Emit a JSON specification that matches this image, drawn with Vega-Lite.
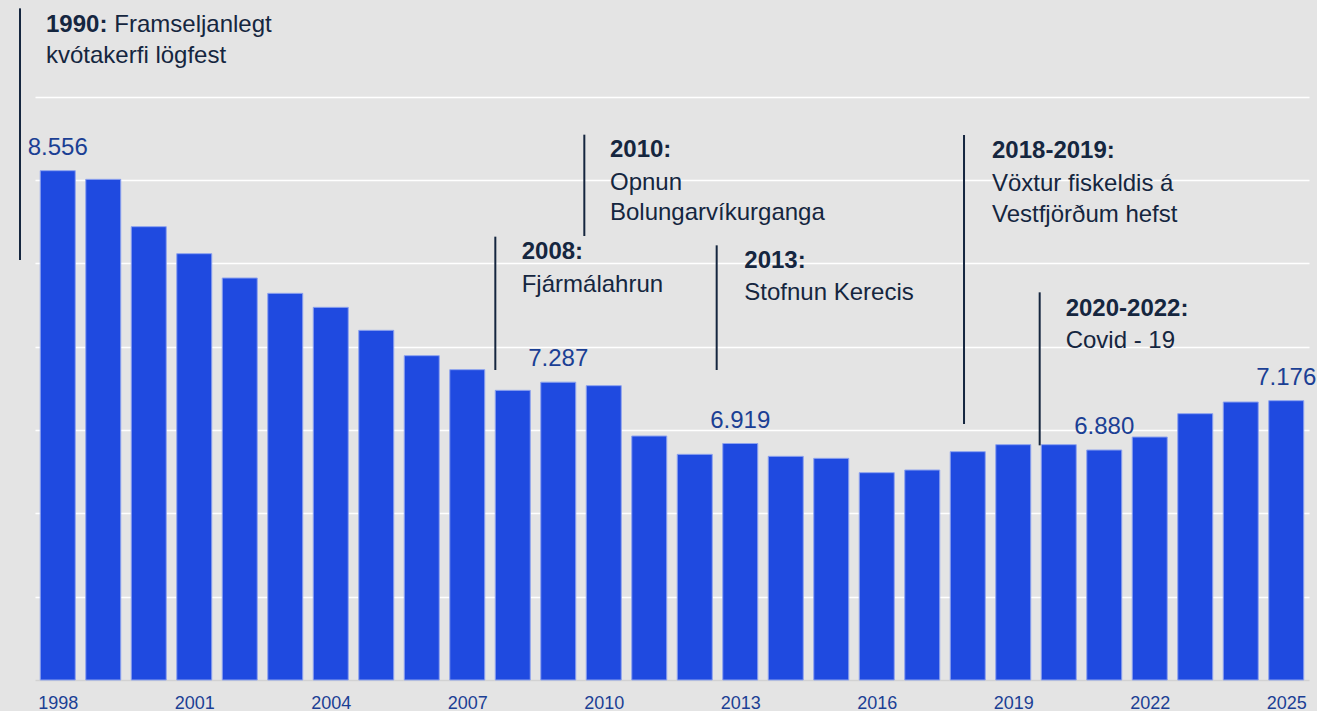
{
  "$schema": "https://vega.github.io/schema/vega-lite/v6.json",
  "width": 1274,
  "height": 680,
  "autosize": {"type": "none"},
  "padding": {"left": 35, "top": 0, "right": 8, "bottom": 31},
  "background": "#e4e4e4",
  "config": {
    "view": {"stroke": null},
    "font": "Liberation Sans",
    "locale": {"number": {"decimal": ",", "thousands": ".", "grouping": [3], "currency": ["", " kr."]}}
  },
  "datasets": {
    "bars": [
      {"year": 1998, "value": 8556},
      {"year": 1999, "value": 8504},
      {"year": 2000, "value": 8220},
      {"year": 2001, "value": 8058},
      {"year": 2002, "value": 7912},
      {"year": 2003, "value": 7820},
      {"year": 2004, "value": 7736},
      {"year": 2005, "value": 7598},
      {"year": 2006, "value": 7446},
      {"year": 2007, "value": 7362},
      {"year": 2008, "value": 7238},
      {"year": 2009, "value": 7287},
      {"year": 2010, "value": 7266},
      {"year": 2011, "value": 6964},
      {"year": 2012, "value": 6854},
      {"year": 2013, "value": 6919},
      {"year": 2014, "value": 6842},
      {"year": 2015, "value": 6830},
      {"year": 2016, "value": 6744},
      {"year": 2017, "value": 6760},
      {"year": 2018, "value": 6870},
      {"year": 2019, "value": 6912},
      {"year": 2020, "value": 6912},
      {"year": 2021, "value": 6880},
      {"year": 2022, "value": 6958},
      {"year": 2023, "value": 7098},
      {"year": 2024, "value": 7168},
      {"year": 2025, "value": 7176}
    ],
    "rules": [
      {"event": "1990", "year": 1997.17, "value": 9530, "value2": 8020},
      {"event": "2008", "year": 2007.617, "value": 8160, "value2": 7360},
      {"event": "2010", "year": 2009.573, "value": 8772, "value2": 8164},
      {"event": "2013", "year": 2012.482, "value": 8108, "value2": 7360},
      {"event": "2018-2019", "year": 2017.918, "value": 8770, "value2": 7036},
      {"event": "2020-2022", "year": 2019.581, "value": 7826, "value2": 6908}
    ],
    "notesBold": [
      {"year": 1997.742, "value": 9386, "text": "1990:"},
      {"year": 2008.197, "value": 8024, "text": "2008:"},
      {"year": 2010.137, "value": 8636, "text": "2010:"},
      {"year": 2013.089, "value": 7970, "text": "2013:"},
      {"year": 2018.533, "value": 8634, "text": "2018-2019:"},
      {"year": 2020.152, "value": 7686, "text": "2020-2022:"}
    ],
    "notesText": [
      {"year": 1999.243, "value": 9386, "text": "Framseljanlegt"},
      {"year": 1997.742, "value": 9200, "text": "kvótakerfi lögfest"},
      {"year": 2008.197, "value": 7830, "text": "Fjármálahrun"},
      {"year": 2010.137, "value": 8440, "text": "Opnun"},
      {"year": 2010.137, "value": 8260, "text": "Bolungarvíkurganga"},
      {"year": 2013.089, "value": 7780, "text": "Stofnun Kerecis"},
      {"year": 2018.533, "value": 8436, "text": "Vöxtur fiskeldis á"},
      {"year": 2018.533, "value": 8250, "text": "Vestfjörðum hefst"},
      {"year": 2020.152, "value": 7494, "text": "Covid - 19"}
    ]
  },
  "layer": [
    {
      "data": {"name": "bars"},
      "mark": {"type": "bar", "width": 35, "color": "#1f4ae0", "stroke": "#8ea3ee", "strokeWidth": 1},
      "encoding": {
        "x": {
          "field": "year", "type": "quantitative",
          "scale": {"domain": [1997.5, 2025.5], "nice": false, "zero": false, "padding": 0},
          "axis": {
            "title": null, "values": [1998, 2001, 2004, 2007, 2010, 2013, 2016, 2019, 2022, 2025],
            "format": "d", "labelFontSize": 18, "labelColor": "#1b3f94", "labelFont": "Liberation Sans",
            "ticks": false, "labelPadding": 14, "grid": false, "domainColor": "#d2d2d2", "domainWidth": 1.5,
            "labelFlush": false
          }
        },
        "y": {
          "field": "value", "type": "quantitative",
          "scale": {"domain": [5500, 9580], "nice": false, "zero": false, "padding": 0},
          "axis": {
            "title": null, "values": [6000, 6500, 7000, 7500, 8000, 8500, 9000],
            "labels": false, "ticks": false, "domain": false, "grid": true,
            "gridColor": "#ffffff", "gridWidth": 1.5
          }
        },
        "y2": {"datum": 5500}
      }
    },
    {
      "data": {"name": "bars"},
      "transform": [{"filter": "indexof([1998, 2009, 2013, 2021, 2025], datum.year) >= 0"}],
      "mark": {"type": "text", "align": "center", "baseline": "alphabetic", "dy": -16, "fontSize": 24, "color": "#1b3f94"},
      "encoding": {
        "x": {"field": "year", "type": "quantitative"},
        "y": {"field": "value", "type": "quantitative"},
        "text": {"field": "value", "type": "quantitative", "format": ",d"}
      }
    },
    {
      "data": {"name": "rules"},
      "mark": {"type": "rule", "color": "#15263f", "strokeWidth": 2, "clip": false},
      "encoding": {
        "x": {"field": "year", "type": "quantitative"},
        "y": {"field": "value", "type": "quantitative"},
        "y2": {"field": "value2"}
      }
    },
    {
      "data": {"name": "notesBold"},
      "mark": {"type": "text", "align": "left", "baseline": "alphabetic", "fontSize": 24, "fontWeight": "bold", "color": "#15263f"},
      "encoding": {
        "x": {"field": "year", "type": "quantitative"},
        "y": {"field": "value", "type": "quantitative"},
        "text": {"field": "text"}
      }
    },
    {
      "data": {"name": "notesText"},
      "mark": {"type": "text", "align": "left", "baseline": "alphabetic", "fontSize": 24, "color": "#15263f"},
      "encoding": {
        "x": {"field": "year", "type": "quantitative"},
        "y": {"field": "value", "type": "quantitative"},
        "text": {"field": "text"}
      }
    }
  ]
}
